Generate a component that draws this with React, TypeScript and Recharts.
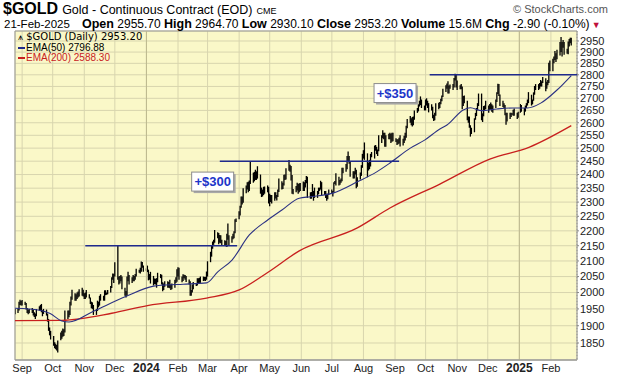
import React from 'react';
import {
  ComposedChart, Bar, Line, XAxis, YAxis, CartesianGrid, ReferenceLine, ReferenceArea, ReferenceDot,
} from 'recharts';

// ---------- DATA ----------
// Daily [low, high] of $GOLD, one line per week (weekdays ending 21-Feb-2025)
const dailyLowHigh: [number, number][] = [
  [1940, 1953], [1934, 1950],
  [1938, 1952], [1945, 1972], [1962, 1978], [1960, 1974], [1960, 1977],
  [1962, 1972], [1948, 1968], [1938, 1953], [1934, 1948], [1937, 1950],
  [1938, 1953], [1930, 1948], [1926, 1940], [1920, 1936], [1928, 1950],
  [1945, 1958], [1947, 1962], [1940, 1965], [1928, 1946], [1935, 1950],
  [1930, 1948], [1912, 1936], [1885, 1920], [1872, 1895], [1860, 1885],
  [1842, 1870], [1835, 1852], [1832, 1848], [1829, 1844], [1823, 1857],
  [1858, 1880], [1862, 1885], [1868, 1892], [1870, 1890], [1880, 1945],
  [1920, 1945], [1925, 1945], [1932, 1972], [1960, 1988], [1978, 2009],
  [1975, 1998], [1975, 1995], [1980, 2000], [1985, 2003], [1988, 2010],
  [1990, 2015], [1988, 2009], [1980, 1998], [1980, 2000], [1985, 2008],
  [1982, 1995], [1965, 1985], [1952, 1972], [1950, 1970], [1932, 1962],
  [1932, 1950], [1944, 1975], [1955, 1972], [1960, 1990], [1975, 1995],
  [1975, 1990], [1975, 2007], [1992, 2007], [1993, 2000], [1995, 2008],
  [2000, 2020], [2014, 2048], [2040, 2060], [2030, 2059], [2050, 2096],
  [2040, 2150], [2025, 2050], [2028, 2052], [2035, 2055], [2010, 2050],
  [1990, 2015], [1985, 2005], [1990, 2050], [2035, 2065], [2025, 2055],
  [2030, 2048], [2035, 2055], [2035, 2052], [2040, 2058], [2050, 2075],
  [2062, 2072], [2060, 2078], [2065, 2098], [2078, 2097], [2065, 2085],
  [2068, 2076], [2064, 2085], [2038, 2072], [2040, 2058], [2028, 2065],
  [2022, 2052], [2026, 2044], [2025, 2043], [2015, 2045], [2032, 2062],
  [2045, 2058], [2025, 2056], [2004, 2032], [2008, 2028], [2018, 2035],
  [2015, 2035], [2015, 2033], [2013, 2040], [2008, 2025], [2010, 2028],
  [2015, 2040], [2030, 2048], [2034, 2073], [2050, 2080], [2040, 2078],
  [2032, 2050], [2036, 2057], [2045, 2056], [2040, 2055], [2033, 2052],
  [2025, 2041], [1990, 2035], [1990, 2008], [2000, 2025], [2010, 2033],
  [2020, 2030], [2022, 2045], [2028, 2045], [2030, 2046], [2030, 2050],
  [2036, 2050], [2037, 2049], [2036, 2049], [2040, 2066], [2050, 2099],
  [2096, 2130], [2114, 2150], [2140, 2164], [2153, 2170], [2160, 2203],
  [2175, 2195], [2155, 2193], [2160, 2186], [2158, 2185], [2150, 2170],
  [2152, 2168], [2148, 2166], [2146, 2190], [2170, 2225], [2150, 2185],
  [2160, 2182], [2172, 2190], [2175, 2199], [2192, 2240], [2230, 2242],
  [2240, 2268], [2253, 2287], [2280, 2320], [2291, 2320], [2298, 2350],
  [2332, 2360], [2345, 2372], [2335, 2373], [2340, 2378], [2365, 2448],
  [2370, 2407], [2375, 2410], [2380, 2418], [2380, 2412], [2385, 2431],
  [2330, 2400], [2318, 2352], [2320, 2345], [2325, 2355], [2330, 2356],
  [2335, 2360], [2295, 2355], [2285, 2330], [2300, 2325], [2295, 2325],
  [2305, 2335], [2313, 2335], [2306, 2325], [2318, 2345], [2336, 2385],
  [2345, 2375], [2347, 2370], [2360, 2399], [2380, 2400], [2382, 2423],
  [2414, 2455], [2410, 2437], [2378, 2432], [2330, 2398], [2328, 2347],
  [2335, 2358], [2342, 2370], [2330, 2365], [2335, 2368], [2340, 2369],
  [2340, 2374], [2340, 2372], [2352, 2380], [2368, 2395], [2315, 2392],
  [2312, 2335], [2312, 2336], [2320, 2365], [2305, 2340], [2315, 2352],
  [2315, 2340], [2328, 2352], [2340, 2352], [2345, 2377], [2325, 2372],
  [2325, 2340], [2315, 2340], [2305, 2330], [2310, 2330], [2325, 2345],
  [2330, 2345], [2320, 2340], [2335, 2372], [2365, 2376], [2360, 2405],
  [2360, 2392], [2362, 2380], [2370, 2385], [2375, 2425], [2405, 2425],
  [2410, 2439], [2420, 2470], [2450, 2487], [2440, 2470], [2392, 2450],
  [2385, 2412], [2385, 2412], [2400, 2425], [2350, 2418], [2355, 2390],
  [2382, 2408], [2395, 2435], [2425, 2478], [2460, 2492], [2455, 2522],
  [2390, 2480], [2415, 2445], [2420, 2455], [2430, 2478], [2465, 2485],
  [2460, 2510], [2490, 2512], [2477, 2505], [2470, 2495], [2488, 2550],
  [2520, 2550], [2538, 2570], [2535, 2560], [2505, 2560], [2505, 2550],
  [2535, 2556], [2535, 2560], [2520, 2556], [2525, 2560], [2527, 2560],
  [2524, 2538], [2512, 2535], [2515, 2535], [2518, 2540], [2506, 2550],
  [2510, 2536], [2520, 2548], [2530, 2560], [2540, 2588], [2578, 2615],
  [2600, 2627], [2590, 2618], [2585, 2623], [2590, 2625], [2612, 2650],
  [2640, 2660], [2646, 2675], [2666, 2690], [2672, 2708], [2660, 2695],
  [2650, 2670], [2650, 2695], [2670, 2700], [2660, 2690], [2642, 2680],
  [2650, 2675], [2618, 2665], [2607, 2632], [2610, 2640], [2628, 2680],
  [2655, 2682], [2660, 2685], [2675, 2698], [2688, 2712], [2706, 2740],
  [2726, 2755], [2740, 2763], [2720, 2772], [2720, 2754], [2740, 2758],
  [2735, 2760], [2745, 2786], [2775, 2805], [2745, 2802], [2735, 2775],
  [2738, 2755], [2738, 2760], [2655, 2750], [2668, 2710], [2680, 2712],
  [2610, 2690], [2600, 2625], [2580, 2625], [2545, 2590], [2555, 2580],
  [2562, 2618], [2612, 2640], [2627, 2660], [2650, 2680], [2668, 2720],
  [2610, 2720], [2603, 2638], [2626, 2668], [2650, 2670], [2655, 2690],
  [2640, 2670], [2652, 2676], [2654, 2683], [2645, 2675], [2640, 2670],
  [2660, 2695], [2685, 2725], [2718, 2762], [2710, 2760], [2668, 2716],
  [2664, 2690], [2658, 2680], [2630, 2672], [2592, 2640], [2605, 2640],
  [2615, 2640], [2623, 2640], [2632, 2638], [2628, 2653], [2628, 2658],
  [2615, 2640], [2620, 2645], [2638, 2645], [2640, 2676], [2645, 2672],
  [2630, 2660], [2645, 2670], [2660, 2680], [2670, 2695], [2680, 2726],
  [2670, 2715], [2675, 2695], [2690, 2725], [2715, 2752], [2735, 2760],
  [2735, 2760], [2740, 2765], [2750, 2778], [2750, 2772], [2765, 2790],
  [2730, 2785], [2740, 2770], [2755, 2778], [2765, 2853], [2815, 2862],
  [2815, 2870], [2850, 2880], [2865, 2905], [2856, 2895], [2868, 2911],
  [2885, 2945], [2900, 2968], [2880, 2945], [2920, 2955], [2888, 2945],
  [2893, 2915], [2890, 2948], [2925, 2959], [2940, 2965], [2930.1, 2964.7],
];
const lastBarDate = '2025-02-21';

const ema50Dates = [
  '2023-08-25', '2023-09-18', '2023-09-28', '2023-10-10', '2023-10-17', '2023-11-10', '2023-12-11',
  '2024-01-08', '2024-01-17', '2024-02-06', '2024-02-29', '2024-03-11', '2024-03-25', '2024-04-11',
  '2024-04-29', '2024-05-13', '2024-05-30', '2024-06-10', '2024-07-02', '2024-07-26', '2024-08-14',
  '2024-08-27', '2024-09-16', '2024-09-30', '2024-10-15', '2024-10-22', '2024-11-07', '2024-11-14',
  '2024-11-25', '2024-12-10', '2024-12-26', '2025-01-09', '2025-01-22', '2025-02-07', '2025-02-21',
];
const ema50Values = [
  1952, 1946, 1937, 1914, 1911, 1943, 1987,
  2020, 2023, 2026, 2030, 2065, 2103, 2186,
  2237, 2272, 2314, 2319, 2332, 2373, 2410,
  2443, 2500, 2531, 2575, 2591, 2652, 2661,
  2649, 2656, 2660, 2660, 2680, 2735, 2796.88,
];

const ema200Dates = [
  '2023-08-25', '2023-10-10', '2023-11-28', '2024-01-02', '2024-02-29', '2024-04-01', '2024-04-29',
  '2024-05-30', '2024-07-26', '2024-08-27', '2024-10-15', '2024-12-03', '2025-01-11', '2025-02-21',
];
const ema200Values = [
  1915, 1916, 1937, 1960, 1983, 2008, 2063,
  2133, 2210, 2279, 2365, 2458, 2504, 2588.3,
];

const monthTickDates = [
  '2023-09-01', '2023-10-01', '2023-11-01', '2023-12-01', '2024-01-01', '2024-02-01', '2024-03-01',
  '2024-04-01', '2024-05-01', '2024-06-01', '2024-07-01', '2024-08-01', '2024-09-01', '2024-10-01',
  '2024-11-01', '2024-12-01', '2025-01-01', '2025-02-01',
];
const monthLabels = [
  'Sep', 'Oct', 'Nov', 'Dec', '2024', 'Feb', 'Mar', 'Apr', 'May', 'Jun', 'Jul', 'Aug',
  'Sep', 'Oct', 'Nov', 'Dec', '2025', 'Feb',
];
const yearStarts = ['2024-01-01', '2025-01-01'];
const priceTicks = [
  1850, 1900, 1950, 2000, 2050, 2100, 2150, 2200, 2250, 2300, 2350, 2400, 2450, 2500,
  2550, 2600, 2650, 2700, 2750, 2800, 2850, 2900, 2950,
];

// resistance levels: [startDate, endDate, price]
const levelStarts = ['2023-11-02', '2024-03-13', '2024-10-05'];
const levelEnds = ['2024-03-30', '2024-09-05', '2025-02-27'];
const levelPrices = [2150, 2450, 2800];

// annotations
const noteTexts = ['+$300', '+$350'];
const noteDates = ['2024-03-06', '2024-09-01'];
const notePrices = [2374, 2722];

// ---------- HELPERS ----------
const BASE = Date.UTC(2023, 8, 1);
const toT = (s: string) => {
  const [y, m, d] = s.split('-').map(Number);
  return (Date.UTC(y, m - 1, d) - BASE) / 86400000;
};

const buildBarData = () => {
  const n = dailyLowHigh.length;
  const ts: number[] = [];
  let t = toT(lastBarDate);
  while (ts.length < n) {
    const dow = new Date(BASE + t * 86400000).getUTCDay();
    if (dow !== 0 && dow !== 6) ts.push(t);
    t -= 1;
  }
  ts.reverse();
  return dailyLowHigh.map((lh, i) => ({ t: ts[i], range: [lh[0], lh[1]] }));
};
const barData = buildBarData();
const ema50Data = ema50Dates.map((d, i) => ({ t: toT(d), v: ema50Values[i] }));
const ema200Data = ema200Dates.map((d, i) => ({ t: toT(d), v: ema200Values[i] }));
const monthTicks = monthTickDates.map(toT);

const X_MIN = -7;
const X_MAX = 544.6;
const Y_MIN = 1802;
const Y_MAX = 2996;

const NAVY = '#1f2a8c';
const RED = '#c8201e';
const BG = '#faf8c8';
const GRID = '#d8d5ae';

const BarShape = (props: any) => {
  const { x, y, width, height } = props;
  if (x == null || y == null || isNaN(y)) return null;
  const cx = x + width / 2;
  const y1 = Math.min(y, y + height);
  const y2 = Math.max(y, y + height, y1 + 1);
  return <line x1={cx} x2={cx} y1={y1} y2={y2} stroke="#000" strokeWidth={1.3} />;
};

const XTick = (props: any) => {
  const { x, y, payload } = props;
  const idx = monthTicks.findIndex((m) => Math.abs(m - payload.value) < 0.01);
  const label = idx >= 0 ? monthLabels[idx] : '';
  const isYear = /^\d{4}$/.test(label);
  return (
    <text
      x={x}
      y={y + 4}
      textAnchor="middle"
      fontSize={isYear ? 12 : 11}
      fontWeight={isYear ? 700 : 400}
      fontFamily={isYear ? '"Liberation Sans Narrow", "Liberation Sans", Arial' : '"Liberation Sans", Arial'}
      fill="#222"
    >
      {label}
    </text>
  );
};

const makeNote = (label: string) => (props: any) => {
  const { cx, cy } = props;
  if (cx == null || cy == null) return null;
  const w = 42;
  const h = 19;
  return (
    <g>
      <rect x={cx - w / 2 + 2} y={cy - h / 2 + 2} width={w} height={h} fill="#a8a8a8" />
      <rect x={cx - w / 2} y={cy - h / 2} width={w} height={h} fill="#fff" stroke="#8c8c8c" />
      <text x={cx} y={cy + 4.5} textAnchor="middle" fontSize={13} fontWeight={700}
        fontFamily='"Liberation Sans", Arial' fill="#1c35c9">{label}</text>
    </g>
  );
};

const bold: React.CSSProperties = { fontSize: 12.5, fontWeight: 700 };
const legendRow: React.CSSProperties = {
  fontFamily: '"Liberation Sans Narrow", "Liberation Sans"', fontSize: 10, height: 10.5,
  lineHeight: '10px', display: 'flex', alignItems: 'center',
};

export default function App() {
  return (
    <div style={{
      position: 'absolute', left: 0, top: 0, width: 620, height: 376, background: '#fff',
      overflow: 'hidden', fontFamily: '"Liberation Sans", Arial, sans-serif', color: '#000',
    }}>
      <ComposedChart
        width={620}
        height={376}
        data={barData}
        margin={{ top: 31, left: 15, right: 0, bottom: 0 }}
      >
        <CartesianGrid stroke={GRID} fill={BG} fillOpacity={1} />
        <XAxis
          dataKey="t"
          type="number"
          domain={[X_MIN, X_MAX]}
          allowDataOverflow
          ticks={monthTicks}
          interval={0}
          tick={<XTick />}
          tickLine={false}
          axisLine={{ stroke: '#999' }}
          height={16}
        />
        <YAxis
          orientation="right"
          scale="log"
          domain={[Y_MIN, Y_MAX]}
          allowDataOverflow
          ticks={priceTicks}
          interval={0}
          width={43}
          tickSize={2}
          tickMargin={1}
          tick={{ fontSize: 11, fill: '#222', fontFamily: '"Liberation Sans", Arial' }}
          tickLine={{ stroke: '#888' }}
          axisLine={{ stroke: '#999', strokeDasharray: '1 2' }}
        />
        {yearStarts.map((d) => (
          <ReferenceLine key={d} x={toT(d)} stroke="#bdb98e" strokeWidth={1} />
        ))}
        <ReferenceArea x1={X_MIN} x2={X_MAX} y1={Y_MIN} y2={Y_MAX} fill="none" stroke="#9a9a9a" />
        <Line data={ema200Data} dataKey="v" type="monotone" dot={false} stroke={RED}
          strokeWidth={1.3} isAnimationActive={false} />
        <Line data={ema50Data} dataKey="v" type="monotone" dot={false} stroke="#2b3183"
          strokeWidth={1.1} isAnimationActive={false} />
        <Bar dataKey="range" barSize={2} shape={<BarShape />} isAnimationActive={false} />
        {levelPrices.map((p, i) => (
          <ReferenceLine
            key={i}
            segment={[{ x: toT(levelStarts[i]), y: p }, { x: toT(levelEnds[i]), y: p }]}
            stroke={NAVY}
            strokeWidth={1.6}
            ifOverflow="visible"
          />
        ))}
        {noteTexts.map((txt, i) => (
          <ReferenceDot key={txt} x={toT(noteDates[i])} y={notePrices[i]} r={1}
            shape={makeNote(txt)} ifOverflow="visible" />
        ))}
      </ComposedChart>

      {/* header line 1 */}
      <div style={{ position: 'absolute', left: 3, top: 1, whiteSpace: 'nowrap', lineHeight: '15px', height: 15 }}>
        <span style={{ fontFamily: '"Liberation Sans Narrow", "Liberation Sans"', fontWeight: 700, fontSize: 16 }}>$GOLD</span>
        <span style={{ fontFamily: '"Liberation Sans Narrow", "Liberation Sans"', fontSize: 12.5, marginLeft: 4 }}>Gold - Continuous Contract (EOD)</span>
        <span style={{ fontSize: 9, marginLeft: 4 }}>CME</span>
      </div>
      <div style={{ position: 'absolute', left: 513, top: 3, whiteSpace: 'nowrap', fontSize: 11, lineHeight: '12px', color: '#555' }}>
        © StockCharts.com
      </div>
      {/* header line 2 */}
      <div style={{ position: 'absolute', left: 4, top: 18, whiteSpace: 'nowrap', fontSize: 11.5, lineHeight: '12px' }}>
        21-Feb-2025
      </div>
      <div style={{ position: 'absolute', left: 82, top: 18, whiteSpace: 'nowrap', fontSize: 12, lineHeight: '12px' }}>
        <b style={bold}>Open</b> 2955.70 <b style={bold}>High</b> 2964.70{' '}
        <b style={bold}>Low</b> 2930.10 <b style={bold}>Close</b> 2953.20{' '}
        <b style={bold}>Volume</b> 15.6M <b style={bold}>Chg</b> -2.90 (-0.10%)
        <span style={{ color: '#c0103a', fontSize: 9, marginLeft: 2 }}>▼</span>
      </div>
      {/* legend */}
      <div style={{ position: 'absolute', left: 18, top: 32, whiteSpace: 'nowrap', lineHeight: '10px' }}>
        <div style={{ fontFamily: '"DejaVu Sans"', fontSize: 10, height: 10.5, lineHeight: '10px' }}>
          <span style={{ fontSize: 9 }}>⩚</span> $GOLD (Daily) 2953.20
        </div>
        <div style={legendRow}>
          <span style={{ display: 'inline-block', width: 7, height: 2, background: NAVY, marginRight: 1 }} />EMA(50) 2796.88
        </div>
        <div style={{ ...legendRow, color: RED }}>
          <span style={{ display: 'inline-block', width: 7, height: 2, background: RED, marginRight: 1 }} />EMA(200) 2588.30
        </div>
      </div>
    </div>
  );
}
